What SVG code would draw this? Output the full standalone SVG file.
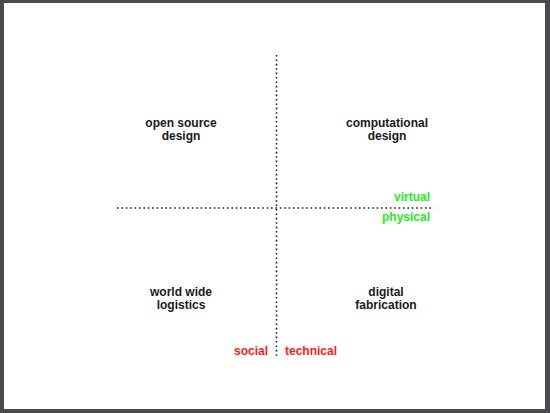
<svg xmlns="http://www.w3.org/2000/svg" width="550" height="413" viewBox="0 0 550 413">
<style>
.t{font-family:"Liberation Sans",Arial,sans-serif;font-size:12px;font-weight:bold;fill:#1a1a1a;text-anchor:middle}
.g{font-family:"Liberation Sans",Arial,sans-serif;font-size:12px;font-weight:bold;fill:#22ee22}
.r{font-family:"Liberation Sans",Arial,sans-serif;font-size:12px;font-weight:bold;fill:#ff2020}
.d{stroke:#222;stroke-width:1.6;stroke-dasharray:1.6 2.8;fill:none}
</style>
<rect x="0" y="0" width="550" height="413" fill="#4a4a50"/>
<rect x="4" y="3" width="541" height="406" fill="#ffffff"/>
<g id="connectors">
<line class="d" x1="276.5" y1="55" x2="276.5" y2="358"/>
<line class="d" x1="117" y1="208" x2="434" y2="208"/>
</g>
<g id="open-source-design">
<text class="t" x="181" y="127">open source</text>
<text class="t" x="181" y="140">design</text>
</g>
<g id="computational-design">
<text class="t" x="387" y="127">computational</text>
<text class="t" x="387" y="140">design</text>
</g>
<g id="world-wide-logistics">
<text class="t" x="181" y="296">world wide</text>
<text class="t" x="181" y="309">logistics</text>
</g>
<g id="digital-fabrication">
<text class="t" x="386" y="296">digital</text>
<text class="t" x="386" y="309">fabrication</text>
</g>
<g id="axis-labels">
<text class="g" x="430" y="201" text-anchor="end">virtual</text>
<text class="g" x="430" y="221" text-anchor="end">physical</text>
<text class="r" x="268" y="355" text-anchor="end">social</text>
<text class="r" x="285" y="355">technical</text>
</g>
</svg>
